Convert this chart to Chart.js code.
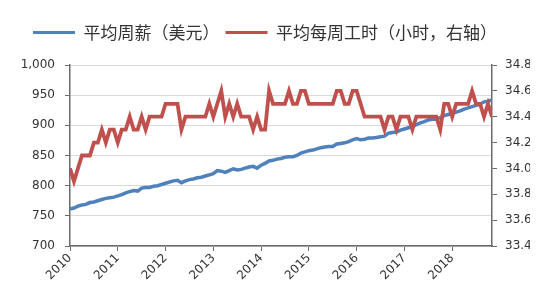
<!DOCTYPE html>
<html>
<head>
<meta charset="utf-8">
<script src="https://cdn.jsdelivr.net/npm/chart.js@4/dist/chart.umd.min.js"></script>
<style>
html,body{margin:0;padding:0;background:#fff;}
#wrap{width:550px;height:300px;}
</style>
</head>
<body>
<div id="wrap"><canvas id="c" width="550" height="300"></canvas></div>
<script>
// Monthly categories: Jan 2010 .. Nov 2018
const yearLabels = ['2010','2011','2012','2013','2014','2015','2016','2017','2018'];
const monthNames = ['01','02','03','04','05','06','07','08','09','10','11','12'];
const months = [];
for (const y of yearLabels) for (const m of monthNames) { if (y === '2018' && m === '12') break; months.push(y + '-' + m); }

// 平均周薪（美元）
const weekly = [
 761,763,766,768,769,772,773,775,777,779,
 780,781,783,785,788,790,792,791,796,797,
 797,799,800,802,804,806,808,809,805,808,
 810,811,813,814,816,818,820,825,824,822,
 825,828,826,827,829,831,832,829,834,837,
 841,842,844,845,847,848,848,850,854,856,
 858,859,861,863,864,865,865,869,870,871,
 873,876,878,876,877,879,879,880,881,882,
 887,888,889,892,894,896,898,901,904,906,
 909,910,910,913,916,918,920,922,924,927,
 929,931,933,935,939,940,942
];
// 平均每周工时（小时，右轴）
const hours = [
 34.0,33.9,34.0,34.1,34.1,34.1,34.2,34.2,34.3,34.2,
 34.3,34.3,34.2,34.3,34.3,34.4,34.3,34.3,34.4,34.3,
 34.4,34.4,34.4,34.4,34.5,34.5,34.5,34.5,34.3,34.4,
 34.4,34.4,34.4,34.4,34.4,34.5,34.4,34.5,34.6,34.4,
 34.5,34.4,34.5,34.4,34.4,34.4,34.3,34.4,34.3,34.3,
 34.6,34.5,34.5,34.5,34.5,34.6,34.5,34.5,34.6,34.6,
 34.5,34.5,34.5,34.5,34.5,34.5,34.5,34.6,34.6,34.5,
 34.5,34.6,34.6,34.5,34.4,34.4,34.4,34.4,34.4,34.3,
 34.4,34.4,34.3,34.4,34.4,34.4,34.3,34.4,34.4,34.4,
 34.4,34.4,34.4,34.3,34.5,34.5,34.4,34.5,34.5,34.5,
 34.5,34.6,34.5,34.5,34.4,34.5,34.4
];
const seriesNames = ['平均周薪（美元）', '平均每周工时（小时，右轴）'];

const blue = '#4F81BD', red = '#C0504D', axisCol = '#6b6b6b', gridCol = '#d9d9d9', txt = '#333';
const tickFont = {family: 'DejaVu Sans', size: 12};

const legendMargin = {
  id: 'legendMargin',
  beforeInit(chart) {
    const lg = chart.legend;
    if (!lg) return;
    const orig = lg.fit;
    lg.fit = function () { orig.call(this); this.height += 14; };
  }
};

new Chart(document.getElementById('c'), {
  type: 'line',
  data: {
    datasets: [
      {label: seriesNames[0], data: weekly.map((v, i) => ({x: i, y: v})), yAxisID: 'y',
       borderColor: blue, backgroundColor: blue, borderWidth: 3.5, pointRadius: 0, tension: 0, order: 1},
      {label: seriesNames[1], data: hours.map((v, i) => ({x: i, y: v})), yAxisID: 'y1',
       borderColor: red, backgroundColor: red, borderWidth: 3.8, pointRadius: 0, tension: 0, order: 0}
    ]
  },
  options: {
    responsive: false,
    animation: false,
    layout: {padding: {top: 18, right: 20, bottom: 0, left: 0}},
    plugins: {
      tooltip: {enabled: false},
      legend: {
        position: 'top',
        labels: {
          boxWidth: 42, boxHeight: 3, padding: 6, color: txt,
          font: {family: 'Noto Sans CJK SC', size: 17, weight: 'normal'},
          sort: (a, b) => a.datasetIndex - b.datasetIndex,
          generateLabels(chart) {
            return Chart.defaults.plugins.legend.labels.generateLabels(chart).map(l => { l.lineWidth = 0; return l; });
          }
        }
      }
    },
    scales: {
      x: {
        type: 'linear', min: 0, max: months.length - 1,
        afterBuildTicks(scale) { scale.ticks = yearLabels.map((_, k) => ({value: k * 12})); },
        afterFit(scale) { scale.height = 54; },
        ticks: {
          autoSkip: false, minRotation: 45, maxRotation: 45, padding: 0, color: txt, font: tickFont,
          callback: (v) => yearLabels[Math.round(v / 12)]
        },
        grid: {drawOnChartArea: false, drawTicks: true, tickLength: 5, tickColor: axisCol},
        border: {display: true, color: axisCol, width: 1.5}
      },
      y: {
        position: 'left', min: 700, max: 1000,
        afterFit(scale) { scale.width = 70; },
        ticks: {stepSize: 50, padding: 10, color: txt, font: tickFont,
          callback: (v) => v.toLocaleString('en-US')},
        grid: {color: gridCol, tickColor: axisCol, tickLength: 5},
        border: {display: true, color: axisCol, width: 1.5}
      },
      y1: {
        position: 'right', min: 33.4, max: 34.8,
        afterFit(scale) { scale.width = 38; },
        ticks: {stepSize: 0.2, padding: 8, color: txt, font: tickFont,
          callback: (v) => v.toFixed(1)},
        grid: {drawOnChartArea: false, tickColor: axisCol, tickLength: 5},
        border: {display: true, color: axisCol, width: 1.5}
      }
    }
  },
  plugins: [legendMargin]
});
</script>
</body>
</html>
